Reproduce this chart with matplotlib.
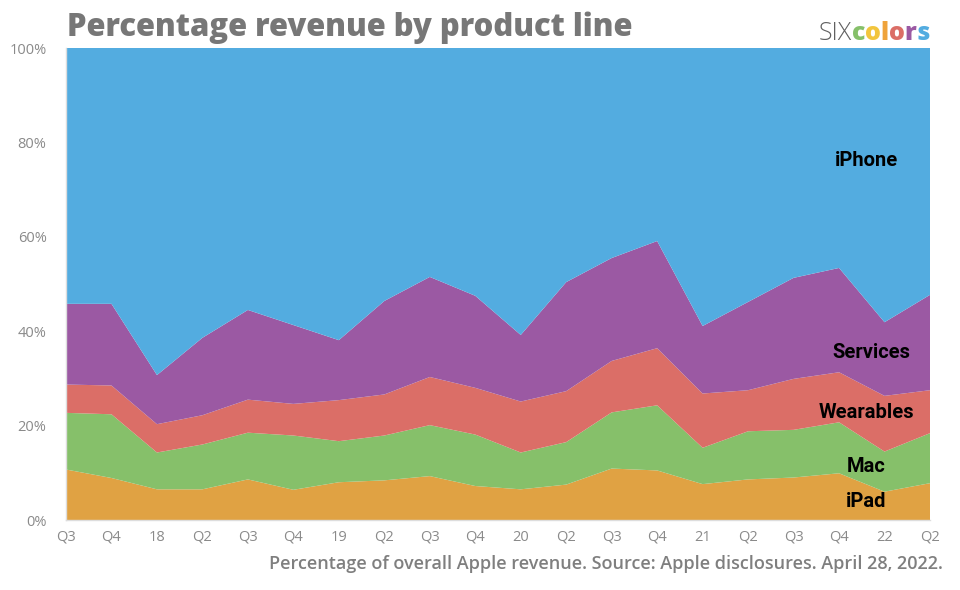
import matplotlib.pyplot as plt

quarters = ['Q3', 'Q4', '18', 'Q2', 'Q3', 'Q4', '19', 'Q2', 'Q3', 'Q4',
            '20', 'Q2', 'Q3', 'Q4', '21', 'Q2', 'Q3', 'Q4', '22', 'Q2']

ipad = [10.7, 8.9, 6.5, 6.5, 8.6, 6.4, 8.0, 8.4, 9.3, 7.2,
        6.5, 7.5, 10.9, 10.5, 7.6, 8.6, 9.0, 9.9, 6.0, 7.8]
mac = [12.0, 13.5, 7.8, 9.5, 9.9, 11.5, 8.7, 9.5, 10.8, 10.9,
       7.8, 9.0, 11.9, 13.8, 7.7, 10.2, 10.1, 10.8, 8.5, 10.6]
wearables = [6.0, 6.1, 6.0, 6.2, 7.0, 6.7, 8.7, 8.7, 10.2, 9.9,
             10.8, 10.8, 10.9, 12.1, 11.5, 8.7, 10.8, 10.6, 11.8, 9.1]
services = [17.1, 17.3, 10.4, 16.4, 19.0, 16.7, 12.7, 19.8, 21.2, 19.5,
            14.1, 23.1, 21.8, 22.7, 14.3, 18.7, 21.4, 22.1, 15.6, 20.2]
iphone = [54.2, 54.2, 69.3, 61.4, 55.5, 58.7, 61.9, 53.6, 48.5, 52.5,
          60.8, 49.6, 44.5, 40.9, 58.9, 53.8, 48.7, 46.6, 58.1, 52.3]

series_names = ['iPad', 'Mac', 'Wearables', 'Services', 'iPhone']
colors = ['#E0A243', '#86C06A', '#DB6E67', '#9B59A3', '#53ACE0']

plt.rcParams['font.family'] = ['Open Sans', 'DejaVu Sans']

fig = plt.figure(figsize=(9.6, 5.9), dpi=100)
ax = fig.add_axes([66 / 960, 70 / 590, 864 / 960, 472 / 590])

x = list(range(len(quarters)))
ax.stackplot(x, ipad, mac, wearables, services, iphone,
             colors=colors, labels=series_names, linewidth=0)

ax.set_xlim(0, len(quarters) - 1)
ax.set_ylim(0, 100)
ax.set_xticks(x)
ax.set_xticklabels(quarters)
ax.set_yticks([0, 20, 40, 60, 80, 100])
ax.set_yticklabels(['0%', '20%', '40%', '60%', '80%', '100%'])
ax.tick_params(axis='both', length=0, labelsize=10.5, colors='#8a8a8a')
ax.tick_params(axis='y', pad=14)
ax.tick_params(axis='x', pad=7)
for side in ['top', 'right']:
    ax.spines[side].set_visible(False)
for side in ['left', 'bottom']:
    ax.spines[side].set_color('#dddddd')
    ax.spines[side].set_linewidth(1)

# labels inside the areas
label_font = dict(fontsize=14.5, fontweight='bold', color='black',
                  family=['Liberation Sans Narrow', 'Roboto', 'DejaVu Sans'],
                  ha='center', va='center')
ax.text(17.6, 76.2, 'iPhone', **label_font)
ax.text(17.7, 35.5, 'Services', **label_font)
ax.text(17.6, 22.8, 'Wearables', **label_font)
ax.text(17.6, 11.4, 'Mac', **label_font)
ax.text(17.6, 4.0, 'iPad', **label_font)

# title
fig.text(67 / 960, 1 - 28 / 590, 'Percentage revenue by product line',
         fontsize=22.3, fontweight='heavy', color='#777777', va='center', ha='left')

# caption
fig.text(943 / 960, 1 - 564 / 590,
         'Percentage of overall Apple revenue. Source: Apple disclosures. April 28, 2022.',
         fontsize=13, fontweight='semibold', color='#7f7f7f', ha='right', va='center')

# sixcolors logo, drawn piece by piece
logo = [('SIX', '#606060', 'light'), ('c', '#86C06A', 'heavy'), ('o', '#F2C53D', 'heavy'),
        ('l', '#EFA33B', 'heavy'), ('o', '#DB6E67', 'heavy'), ('r', '#9B59A3', 'heavy'),
        ('s', '#53ACE0', 'heavy')]
renderer = fig.canvas.get_renderer()
pieces = []
total = 0
for s, c, w in logo:
    t = fig.text(0, 1 - 34 / 590, s, fontsize=18, color=c, fontweight=w, va='center', ha='left')
    width = t.get_window_extent(renderer).width
    pieces.append((t, width))
    total += width
xpos = 930 - total
for t, width in pieces:
    t.set_x(xpos / 960)
    xpos += width

fig.savefig('out.png', dpi=100)
